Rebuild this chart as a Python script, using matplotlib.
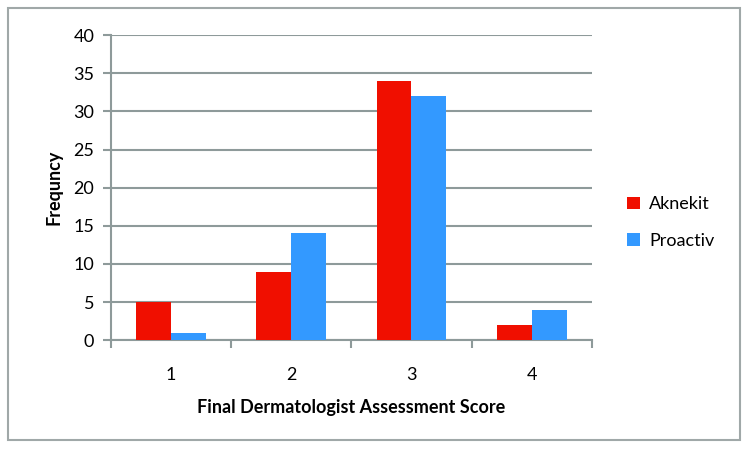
import numpy as np
import matplotlib.pyplot as plt
from matplotlib.patches import Rectangle

# data
scores = ['1', '2', '3', '4']
aknekit = [5, 9, 34, 2]
proactiv = [1, 14, 32, 4]

plt.rcParams['font.family'] = ['Lato', 'DejaVu Sans']
gray = '#8e9a9a'

fig = plt.figure(figsize=(7.5, 4.5), dpi=100)
fig.patch.set_facecolor('white')
fig.patches.append(Rectangle((0.011, 0.022), 0.976, 0.96, transform=fig.transFigure,
                             fill=False, edgecolor='#a0a8a8', linewidth=1.5))

ax = fig.add_axes([0.148, 0.244, 0.641, 0.678])
x = np.arange(len(scores))
w = 0.29
ax.bar(x - w/2, aknekit, w, color='#f00f00', label='Aknekit', zorder=3)
ax.bar(x + w/2, proactiv, w, color='#3399ff', label='Proactiv', zorder=3)

ax.set_xlim(-0.5, len(scores) - 0.5)
ax.set_ylim(0, 40)
ax.set_yticks(range(0, 41, 5))
ax.yaxis.grid(True, color=gray, linewidth=1.5, zorder=0)

ax.set_xticks(x)
ax.set_xticklabels(scores)
ax.set_xticks(np.arange(-0.5, len(scores)), minor=True)
ax.tick_params(axis='x', which='major', length=0, pad=19, labelsize=13)
ax.tick_params(axis='x', which='minor', length=6, width=1.5, color=gray)
ax.tick_params(axis='y', length=6, width=1.5, color=gray, labelsize=13, pad=6)

for s in ['top', 'right']:
    ax.spines[s].set_visible(False)
for s in ['left', 'bottom']:
    ax.spines[s].set_color(gray)
    ax.spines[s].set_linewidth(1.5)

ax.set_xlabel('Final Dermatologist Assessment Score', fontsize=13, fontweight='bold', labelpad=12)
ax.set_ylabel('Frequncy', fontsize=13, fontweight='bold', labelpad=8)

ax.legend(loc='center left', bbox_to_anchor=(1.04, 0.385), frameon=False, fontsize=13,
          handlelength=0.7, handleheight=0.7, handletextpad=0.5, labelspacing=1.15)

fig.savefig('out.png', dpi=100)
